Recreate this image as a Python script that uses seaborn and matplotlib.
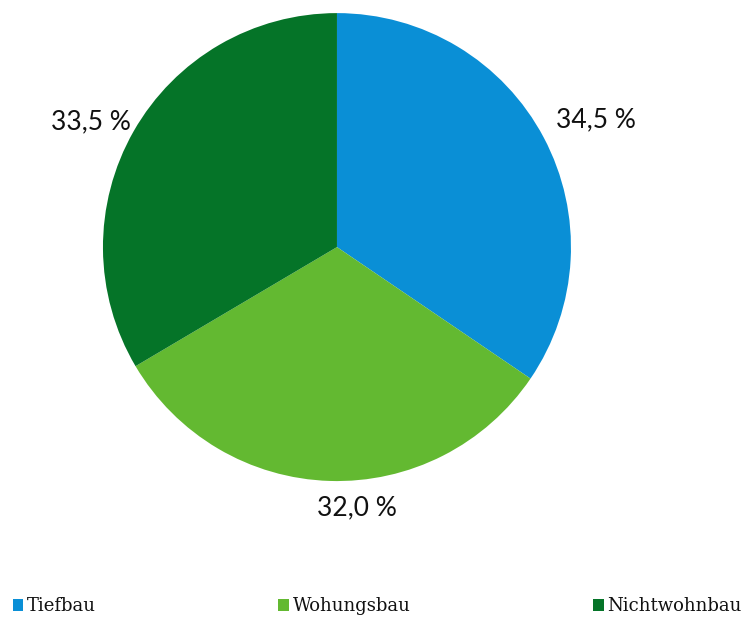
import matplotlib
matplotlib.use("Agg")
import matplotlib.pyplot as plt
import numpy as np
import seaborn as sns
from matplotlib.patches import Patch
from matplotlib.transforms import offset_copy

# Anteile am Bauvolumen nach Sparte
categories = ["Tiefbau", "Wohungsbau", "Nichtwohnbau"]
shares = [34.5, 32.0, 33.5]
value_labels = ["34,5 %", "32,0 %", "33,5 %"]
colors = ["#0A8FD6", "#63B931", "#057428"]

# radial distance of each value label (in pie radii) and fine shift in pixels
label_radius = [1.23, 1.11, 1.18]
label_shift = [(5, -7), (28, -1), (-6, -12)]

sns.set_theme(style="white")
palette = sns.color_palette(colors)

fig = plt.figure(figsize=(7.46, 6.17), dpi=100)
ax = fig.add_axes([0, 0, 1, 1])

wedges, _ = ax.pie(shares, colors=palette, startangle=90, counterclock=False,
                   wedgeprops=dict(linewidth=0))

for w, txt, rr, (sx, sy) in zip(wedges, value_labels, label_radius, label_shift):
    ang = np.deg2rad((w.theta1 + w.theta2) / 2)
    tr = offset_copy(ax.transData, fig=fig, x=sx, y=sy, units="dots")
    ax.text(rr * np.cos(ang), rr * np.sin(ang), txt, ha="center", va="center",
            fontsize=19, family=["Lato", "DejaVu Sans"], color="#111111",
            transform=tr)

ax.set_xlim(-1.440, 1.748)
ax.set_ylim(-1.581, 1.056)
ax.set_aspect("auto")
ax.axis("off")

handles = [Patch(facecolor=c, edgecolor="none") for c in palette]
leg = ax.legend(handles, categories, ncol=3, loc="lower left",
                bbox_to_anchor=(0.0, -0.018), bbox_transform=fig.transFigure,
                frameon=False, handlelength=0.6, handleheight=0.6,
                handletextpad=0.2, columnspacing=10.1, borderaxespad=0.3,
                prop=dict(family="DejaVu Serif", size=13))
for t in leg.get_texts():
    t.set_color("#111111")

fig.savefig("out.png", dpi=100)
